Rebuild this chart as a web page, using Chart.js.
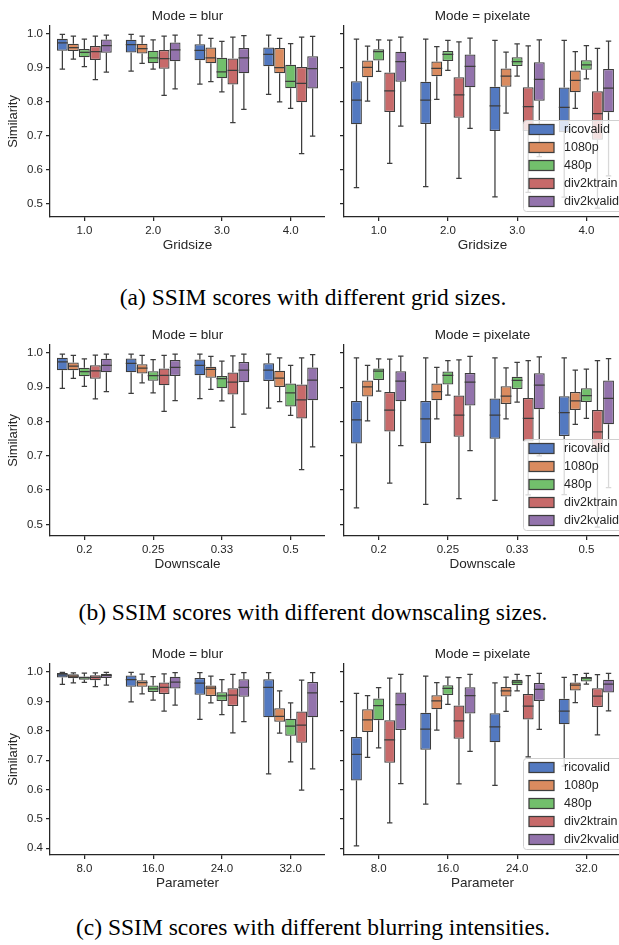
<!DOCTYPE html>
<html lang="en">
<head>
<meta charset="UTF-8">
<title>SSIM scores</title>
<script src="https://cdn.jsdelivr.net/npm/chart.js"></script>
<style>
  html, body { margin: 0; padding: 0; background: #fff; overflow: hidden; }
  body { width: 619px; height: 945px; position: relative; }
  canvas { position: absolute; }
  .caption { position: absolute; left: 0; width: 626px; text-align: center; line-height: 28px;
             font-family: 'Liberation Serif', 'Times New Roman', serif; font-size: 23.5px; color: #000; }
</style>
</head>
<body>
<canvas id="gridBlur" width="325" height="260" style="left:0;top:0"></canvas>
<canvas id="gridPixelate" width="287" height="260" style="left:334px;top:0"></canvas>
<div class="caption" style="top:283px">(a) SSIM scores with different grid sizes.</div>
<canvas id="downBlur" width="325" height="260" style="left:0;top:319px"></canvas>
<canvas id="downPixelate" width="287" height="260" style="left:334px;top:319px"></canvas>
<div class="caption" style="top:598px">(b) SSIM scores with different downscaling sizes.</div>
<canvas id="paramBlur" width="325" height="260" style="left:0;top:638px"></canvas>
<canvas id="paramPixelate" width="287" height="260" style="left:334px;top:638px"></canvas>
<div class="caption" style="top:913px">(c) SSIM scores with different blurring intensities.</div>
<script>
// datasets (hue) and category labels
const hues = ['ricovalid', '1080p', '480p', 'div2ktrain', 'div2kvalid'];
const hueColors = ['#5379c0', '#da8b5f', '#72bf6c', '#c76a6a', '#9373ac'];
const gridsizes = ['1.0', '2.0', '3.0', '4.0'];
const downscales = ['0.2', '0.25', '0.33', '0.5'];
const parameters = ['8.0', '16.0', '24.0', '32.0'];
const yTicksAB = [0.5, 0.6, 0.7, 0.8, 0.9, 1.0];
const yTicksC = [0.4, 0.5, 0.6, 0.7, 0.8, 0.9, 1.0];

// one row per hue, one [min, q1, median, q3, max] per category
const gridBlur = [
  [[.896,.950,.973,.985,.998],[.890,.945,.968,.982,.998],[.852,.922,.951,.969,.996],[.822,.904,.939,.959,.996]],
  [[.925,.949,.959,.970,.993],[.913,.942,.956,.970,.993],[.859,.913,.929,.959,.986],[.800,.884,.900,.958,.986]],
  [[.903,.931,.945,.955,.984],[.896,.913,.929,.950,.982],[.829,.869,.888,.929,.977],[.781,.840,.860,.909,.971]],
  [[.865,.923,.947,.964,.993],[.819,.897,.927,.952,.993],[.739,.851,.892,.927,.990],[.648,.799,.854,.902,.990]],
  [[.887,.944,.965,.983,.996],[.838,.919,.952,.974,.996],[.778,.884,.929,.958,.994],[.699,.839,.897,.934,.992]]
];
const gridPixelate = [
  [[.548,.734,.805,.860,.984],[.551,.735,.805,.859,.984],[.521,.714,.788,.844,.980],[.520,.711,.784,.842,.980]],
  [[.802,.872,.901,.921,.963],[.807,.875,.898,.918,.962],[.767,.844,.875,.898,.946],[.781,.828,.863,.892,.947]],
  [[.889,.921,.947,.954,.982],[.892,.920,.939,.949,.980],[.875,.905,.918,.931,.970],[.867,.894,.908,.922,.965]],
  [[.619,.770,.832,.886,.981],[.575,.753,.820,.872,.976],[.534,.714,.786,.843,.964],[.488,.689,.765,.831,.957]],
  [[.729,.859,.918,.947,.990],[.722,.843,.904,.939,.987],[.639,.803,.866,.916,.982],[.583,.769,.840,.896,.978]]
];
const downBlur = [
  [[.897,.950,.974,.986,.997],[.882,.944,.970,.984,.997],[.867,.935,.964,.981,.997],[.839,.918,.950,.970,.997]],
  [[.926,.950,.962,.972,.993],[.913,.940,.956,.967,.993],[.894,.928,.952,.960,.990],[.858,.901,.927,.948,.986]],
  [[.903,.932,.946,.957,.983],[.884,.919,.934,.947,.981],[.860,.897,.925,.933,.976],[.818,.844,.884,.911,.964]],
  [[.866,.925,.948,.964,.994],[.830,.906,.935,.955,.993],[.783,.879,.915,.943,.992],[.660,.809,.863,.908,.986]],
  [[.887,.944,.964,.983,.997],[.861,.933,.958,.980,.997],[.822,.915,.950,.974,.997],[.726,.862,.921,.958,.995]]
];
const downPixelate = [
  [[.548,.736,.805,.860,.986],[.558,.737,.808,.860,.986],[.570,.750,.819,.867,.986],[.587,.758,.826,.874,.986]],
  [[.802,.873,.901,.920,.964],[.808,.862,.887,.911,.958],[.808,.851,.874,.903,.957],[.792,.834,.860,.886,.950]],
  [[.889,.921,.947,.955,.983],[.877,.908,.935,.946,.978],[.857,.895,.920,.931,.973],[.809,.857,.876,.897,.953]],
  [[.620,.771,.833,.886,.982],[.575,.756,.819,.876,.980],[.586,.742,.809,.869,.978],[.492,.720,.770,.834,.978]],
  [[.730,.859,.918,.947,.991],[.715,.847,.915,.942,.990],[.700,.836,.906,.941,.989],[.607,.792,.868,.920,.984]]
];
const paramBlur = [
  [[.958,.981,.990,.997,.999],[.898,.950,.974,.988,.999],[.839,.923,.962,.980,.998],[.653,.846,.948,.975,.998]],
  [[.963,.979,.986,.992,.997],[.926,.950,.964,.972,.993],[.895,.918,.945,.954,.986],[.792,.831,.849,.877,.936]],
  [[.965,.974,.981,.985,.996],[.904,.932,.943,.954,.984],[.855,.901,.919,.931,.974],[.694,.783,.816,.841,.895]],
  [[.950,.972,.982,.989,.997],[.867,.925,.948,.964,.994],[.793,.884,.921,.945,.992],[.598,.759,.819,.866,.972]],
  [[.955,.980,.989,.994,.999],[.887,.944,.966,.984,.998],[.831,.916,.948,.975,.998],[.670,.846,.929,.966,.998]]
];
const paramPixelate = [
  [[.408,.631,.720,.779,.927],[.550,.735,.806,.861,.986],[.614,.761,.813,.860,.963],[.680,.822,.867,.909,.982]],
  [[.709,.796,.837,.873,.920],[.802,.873,.902,.921,.964],[.866,.917,.936,.949,.983],[.896,.937,.955,.964,.991]],
  [[.742,.836,.886,.910,.947],[.890,.922,.944,.955,.983],[.936,.955,.966,.974,.992],[.959,.968,.979,.983,.995]],
  [[.486,.691,.769,.836,.979],[.619,.773,.834,.886,.981],[.711,.838,.884,.925,.988],[.786,.881,.918,.945,.991]],
  [[.620,.803,.889,.930,.992],[.730,.859,.920,.948,.992],[.805,.901,.941,.963,.995],[.868,.930,.959,.974,.995]]
];

const FONT = '"Liberation Sans", Arial, sans-serif';
const textColor = '#262626';
const edgeColor = '#3d3d3d';

// whiskers, caps and medians, placed from the bars the library laid out
const boxWhiskers = {
  id: 'boxWhiskers',
  afterDatasetsDraw(chart) {
    const ctx = chart.ctx;
    const y = chart.scales.y;
    ctx.save();
    ctx.strokeStyle = edgeColor;
    ctx.lineWidth = 1.25;
    chart.data.datasets.forEach((ds, i) => {
      chart.getDatasetMeta(i).data.forEach((bar, j) => {
        const [lo, q1, med, q3, hi] = ds.stats[j];
        const { x, width } = bar.getProps(['x', 'width'], true);
        const cap = width / 4;
        const pLo = y.getPixelForValue(lo), pHi = y.getPixelForValue(hi);
        ctx.beginPath();
        ctx.moveTo(x, y.getPixelForValue(q3)); ctx.lineTo(x, pHi);
        ctx.moveTo(x, y.getPixelForValue(q1)); ctx.lineTo(x, pLo);
        ctx.moveTo(x - cap, pHi); ctx.lineTo(x + cap, pHi);
        ctx.moveTo(x - cap, pLo); ctx.lineTo(x + cap, pLo);
        const pMed = y.getPixelForValue(med);
        ctx.moveTo(x - width / 2, pMed); ctx.lineTo(x + width / 2, pMed);
        ctx.stroke();
      });
    });
    ctx.restore();
  }
};

// legend in the lower right corner of the plot
const insetLegend = {
  id: 'insetLegend',
  afterDraw(chart, args, opts) {
    if (!opts.show) return;
    const { ctx, chartArea } = chart;
    const w = 104, h = 91;
    const left = Math.round(chartArea.right - 98), top = Math.round(chartArea.bottom - 6 - h);
    ctx.save();
    ctx.fillStyle = 'rgba(255,255,255,0.8)';
    ctx.strokeStyle = '#d0d0d0';
    ctx.lineWidth = 1;
    ctx.beginPath();
    ctx.roundRect(left + 0.5, top + 0.5, w, h, 3);
    ctx.fill();
    ctx.stroke();
    ctx.font = '12.5px ' + FONT;
    ctx.textBaseline = 'middle';
    chart.data.datasets.forEach((ds, i) => {
      const cy = top + 9.5 + i * 18;
      ctx.fillStyle = ds.backgroundColor;
      ctx.fillRect(left + 6, cy - 5, 25, 10);
      ctx.strokeStyle = edgeColor;
      ctx.lineWidth = 1.25;
      ctx.strokeRect(left + 6, cy - 5, 25, 10);
      ctx.fillStyle = textColor;
      ctx.fillText(ds.label, left + 41, cy);
    });
    ctx.restore();
  }
};

function drawPanel(id, stats, labels, mode, xTitle, yRange, yTicks, isLeft) {
  const datasets = hues.map((name, i) => ({
    label: name,
    data: stats[i].map(s => [s[1], s[3]]),
    stats: stats[i],
    backgroundColor: hueColors[i],
    borderColor: edgeColor,
    borderWidth: 1.25,
    borderSkipped: false,
    categoryPercentage: 0.8,
    barPercentage: 0.98
  }));

  new Chart(document.getElementById(id), {
    type: 'bar',
    data: { labels: labels, datasets: datasets },
    plugins: [boxWhiskers, insetLegend],
    options: {
      responsive: false,
      animation: false,
      layout: { padding: 0 },
      plugins: {
        legend: { display: false },
        tooltip: { enabled: false },
        title: {
          display: true,
          text: 'Mode = ' + mode,
          fullSize: false,
          color: textColor,
          font: { family: FONT, size: 13.5, weight: 'normal' },
          padding: { top: 8, bottom: 1.6 }
        },
        insetLegend: { show: !isLeft }
      },
      scales: {
        x: {
          afterFit: s => { s.height = 43; },
          grid: { display: true, drawOnChartArea: false, drawTicks: true, tickLength: 4,
                  color: textColor, lineWidth: 1.25, offset: false },
          border: { display: true, color: textColor, width: 1.25 },
          ticks: { color: textColor, font: { family: FONT, size: 11.5 }, padding: 3, maxRotation: 0 },
          title: { display: true, text: xTitle, color: textColor,
                   font: { family: FONT, size: 13.5 }, padding: { top: 0, bottom: 7 } }
        },
        y: {
          min: yRange[0],
          max: yRange[1],
          afterFit: s => { s.width = isLeft ? 50 : 10; },
          afterBuildTicks: s => { s.ticks = yTicks.map(v => ({ value: v })); },
          grid: { display: true, drawOnChartArea: false, drawTicks: true, tickLength: 4,
                  color: textColor, lineWidth: 1.25 },
          border: { display: true, color: textColor, width: 1.25 },
          ticks: { display: isLeft, color: textColor, font: { family: FONT, size: 11.5 }, padding: 3,
                   callback: v => Number(v).toFixed(1) },
          title: { display: isLeft, text: 'Similarity', color: textColor,
                   font: { family: FONT, size: 13 }, padding: { top: 6, bottom: 0 } }
        }
      }
    }
  });
}

drawPanel('gridBlur', gridBlur, gridsizes, 'blur', 'Gridsize', [0.462, 1.023], yTicksAB, true);
drawPanel('gridPixelate', gridPixelate, gridsizes, 'pixelate', 'Gridsize', [0.462, 1.023], yTicksAB, false);
drawPanel('downBlur', downBlur, downscales, 'blur', 'Downscale', [0.466, 1.024], yTicksAB, true);
drawPanel('downPixelate', downPixelate, downscales, 'pixelate', 'Downscale', [0.466, 1.024], yTicksAB, false);
drawPanel('paramBlur', paramBlur, parameters, 'blur', 'Parameter', [0.377, 1.028], yTicksC, true);
drawPanel('paramPixelate', paramPixelate, parameters, 'pixelate', 'Parameter', [0.377, 1.028], yTicksC, false);
</script>
</body>
</html>
